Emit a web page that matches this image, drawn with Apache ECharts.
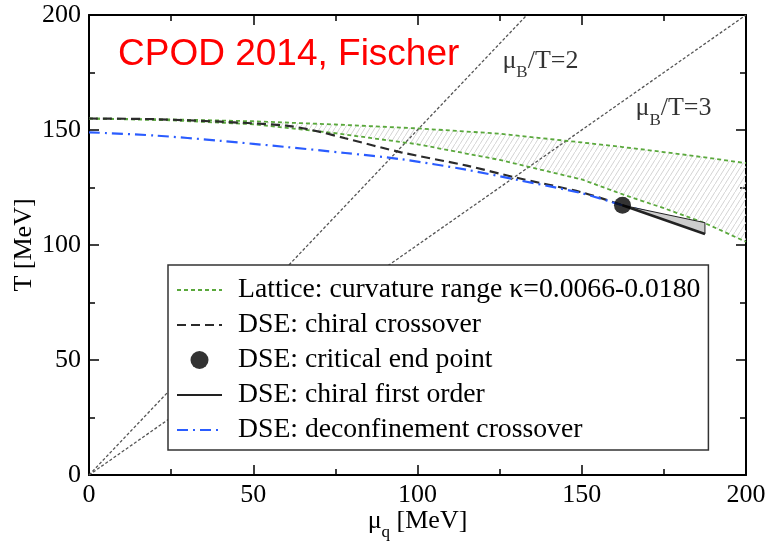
<!DOCTYPE html>
<html>
<head>
<meta charset="utf-8">
<script src="https://cdn.jsdelivr.net/npm/echarts@6/dist/echarts.min.js"></script>
<style>
  html, body { margin: 0; padding: 0; background: #fff; }
  #chart { width: 767px; height: 542px; }
</style>
</head>
<body>
<div id="chart"></div>
<script>
// Lattice transition band (curvature kappa = 0.0066 upper edge, 0.0180 lower edge)
const latticeMu     = [0, 25, 50, 75, 100, 125, 150, 162.5, 175, 187.5, 200];
const latticeUpperT = [155, 154.6, 153.8, 152.4, 150.7, 148.4, 144.6, 142.6, 140.4, 138.1, 135.6];
const latticeLowerT = [155, 154.2, 152.5, 148.6, 143.8, 137.0, 128.5, 122.0, 116.0, 109.5, 101.4];

// DSE chiral crossover line
const chiralMu = [0, 20, 40, 60, 70, 78, 95, 115, 130, 150, 162.4];
const chiralT  = [155, 154.7, 153.6, 151.9, 149.3, 146.4, 140.3, 134.5, 129.3, 122.9, 117.3];

// DSE deconfinement crossover line
const deconfMu = [0, 20, 40, 60, 78, 95, 115, 130, 150, 162.4, 175];
const deconfT  = [149, 147.6, 145.3, 142.6, 140.0, 137.3, 132.7, 128.4, 122.5, 117.3, 112.8];

// Critical end point
const cepMu = [162.4];
const cepT  = [117.3];

// First-order line (lower edge) and upper edge of the spinodal wedge
const firstOrderMu     = [162.4, 187.5];
const firstOrderT      = [117.3, 104.8];
const firstOrderUpperT = [117.3, 109.7];

// Lines of constant mu_B / T
const ratio2Mu = [0, 133.3];
const ratio2T  = [0, 200];
const ratio3Mu = [0, 200];
const ratio3T  = [0, 200];

const zip = (xs, ys) => xs.map((x, i) => [x, ys[i]]);

const SERIF = "'Liberation Serif', 'DejaVu Serif', serif";
const LATTICE = 'Lattice: curvature range κ=0.0066-0.0180';
const CHIRAL = 'DSE: chiral crossover';
const CEP = 'DSE: critical end point';
const FIRST = 'DSE: chiral first order';
const DECONF = 'DSE: deconfinement crossover';

// diagonal hatch tile for the lattice band
function hatchTile() {
  const c = document.createElement('canvas');
  c.width = 5; c.height = 8;
  const g = c.getContext('2d');
  g.strokeStyle = '#d4d4d4';
  g.lineWidth = 1;
  g.beginPath();
  g.moveTo(0, 8); g.lineTo(5, 0);
  g.stroke();
  return c;
}
const hatch = hatchTile();

const subRich = {
  m: { fontFamily: SERIF, fontSize: 26, color: '#000', lineHeight: 40 },
  s: { fontFamily: SERIF, fontSize: 17, color: '#000', lineHeight: 13, verticalAlign: 'bottom' }
};

// framed axis: major ticks (length 10) and minor ticks (length 6) pointing into the plot
function makeAxis(extra) {
  return Object.assign({
    type: 'value',
    min: 0, max: 200, interval: 50,
    axisLine: { show: true, onZero: false, lineStyle: { color: '#000', width: 2 } },
    axisTick: { show: true, inside: true, length: 10, lineStyle: { color: '#000', width: 1.5 } },
    minorTick: { show: true, splitNumber: 2, length: 6, lineStyle: { color: '#000', width: 1.5 } },
    splitLine: { show: false },
    minorSplitLine: { show: false },
    nameMoveOverlap: false
  }, extra);
}

const chart = echarts.init(document.getElementById('chart'), null, { renderer: 'canvas' });

chart.setOption({
  animation: false,
  backgroundColor: '#fff',
  grid: { left: 89, right: 21, top: 15, bottom: 67, containLabel: false, outerBoundsMode: 'none' },
  xAxis: [
    makeAxis({
      position: 'bottom',
      axisLabel: { fontFamily: SERIF, fontSize: 26, color: '#000', margin: 7 },
      name: '{m|μ}{s|q}{m| [MeV]}',
      nameLocation: 'middle',
      nameGap: 26,
      nameTextStyle: { rich: subRich }
    }),
    makeAxis({ position: 'top', axisLabel: { show: false } })
  ],
  yAxis: [
    makeAxis({
      position: 'left',
      axisLabel: { fontFamily: SERIF, fontSize: 26, color: '#000', margin: 8 },
      name: 'T [MeV]',
      nameLocation: 'middle',
      nameGap: 52,
      nameTextStyle: { fontFamily: SERIF, fontSize: 26, color: '#000' }
    }),
    makeAxis({ position: 'right', axisLabel: { show: false } })
  ],
  legend: {
    orient: 'vertical',
    left: 168, top: 265,
    data: [
      { name: LATTICE, itemStyle: { opacity: 0 } },
      { name: CHIRAL, itemStyle: { opacity: 0 } },
      { name: CEP },
      { name: FIRST, itemStyle: { opacity: 0 } },
      { name: DECONF, itemStyle: { opacity: 0 } }
    ],
    itemWidth: 45, itemHeight: 18, itemGap: 7,
    padding: [11, 8, 6, 8],
    backgroundColor: '#fff',
    borderColor: '#333', borderWidth: 1.5, borderRadius: 0,
    selectedMode: false,
    textStyle: { fontFamily: SERIF, fontSize: 27.7, color: '#000', lineHeight: 28, padding: [0, 0, 0, 11] }
  },
  graphic: [{
    type: 'text',
    x: 118, y: 54.5,
    style: {
      text: 'CPOD 2014, Fischer',
      fill: '#ff0000',
      fontFamily: "'Liberation Sans', Arial, sans-serif",
      fontSize: 37,
      verticalAlign: 'middle',
      align: 'left'
    },
    z: 100
  }],
  series: [
    {
      // hatched band between the two lattice curves
      type: 'custom',
      name: 'band',
      coordinateSystem: 'cartesian2d',
      silent: true,
      z: 1,
      data: [[0, 0]],
      renderItem: function (params, api) {
        const pts = latticeMu.map((m, i) => api.coord([m, latticeUpperT[i]]));
        for (let i = latticeMu.length - 1; i >= 0; i--) {
          pts.push(api.coord([latticeMu[i], latticeLowerT[i]]));
        }
        return {
          type: 'polygon',
          shape: { points: pts },
          style: { fill: { image: hatch, repeat: 'repeat' }, stroke: null }
        };
      }
    },
    {
      type: 'line', name: 'ratio2', data: zip(ratio2Mu, ratio2T),
      symbol: 'none', silent: true, z: 2,
      lineStyle: { color: '#555', width: 1.3, type: [3, 2] }
    },
    {
      type: 'line', name: 'ratio3', data: zip(ratio3Mu, ratio3T),
      symbol: 'none', silent: true, z: 2,
      lineStyle: { color: '#555', width: 1.3, type: [3, 2] }
    },
    {
      type: 'line', name: LATTICE, data: zip(latticeMu, latticeUpperT),
      symbol: 'none', z: 3, color: '#5aa83c',
      lineStyle: { color: '#5aa83c', width: 1.8, type: [4, 3] }
    },
    {
      type: 'line', name: LATTICE, data: zip(latticeMu, latticeLowerT),
      symbol: 'none', z: 3, color: '#5aa83c',
      lineStyle: { color: '#5aa83c', width: 1.8, type: [4, 3] }
    },
    {
      type: 'line', name: CHIRAL, data: zip(chiralMu, chiralT),
      symbol: 'none', smooth: 0.3, z: 4, color: '#333',
      lineStyle: { color: '#2b2b2b', width: 2.2, type: [9, 5] }
    },
    {
      type: 'line', name: DECONF, data: zip(deconfMu, deconfT),
      symbol: 'none', smooth: 0.3, z: 5, color: '#2a5cff',
      lineStyle: { color: '#2a5cff', width: 2.2, type: [11, 5, 2, 5] }
    },
    {
      // spinodal wedge of the first-order region
      type: 'custom',
      name: 'wedge',
      coordinateSystem: 'cartesian2d',
      silent: true,
      z: 6,
      data: [[0, 0]],
      renderItem: function (params, api) {
        return {
          type: 'polygon',
          shape: {
            points: [
              api.coord([firstOrderMu[0], firstOrderT[0]]),
              api.coord([firstOrderMu[1], firstOrderUpperT[1]]),
              api.coord([firstOrderMu[1], firstOrderT[1]])
            ]
          },
          style: { fill: '#cdcdcd', stroke: '#222', lineWidth: 1 }
        };
      }
    },
    {
      type: 'line', name: FIRST, data: zip(firstOrderMu, firstOrderT),
      symbol: 'none', z: 7, color: '#222',
      lineStyle: { color: '#222', width: 2.5, type: 'solid' }
    },
    {
      type: 'scatter', name: CEP, data: zip(cepMu, cepT),
      symbol: 'circle', symbolSize: 17, z: 8, color: '#000',
      itemStyle: { color: '#000' }
    },
    {
      // annotations of the constant mu_B/T lines
      type: 'scatter', name: 'ratioLabels', silent: true, z: 9,
      symbolSize: 1, itemStyle: { color: 'rgba(0,0,0,0)' },
      data: [
        { value: [125.7, 179.8], label: { formatter: '{m|μ}{s|B}{m|/T=2}' } },
        { value: [166.2, 159.3], label: { formatter: '{m|μ}{s|B}{m|/T=3}' } }
      ],
      label: { show: true, position: 'right', distance: 0, rich: subRich }
    }
  ]
});
</script>
</body>
</html>
